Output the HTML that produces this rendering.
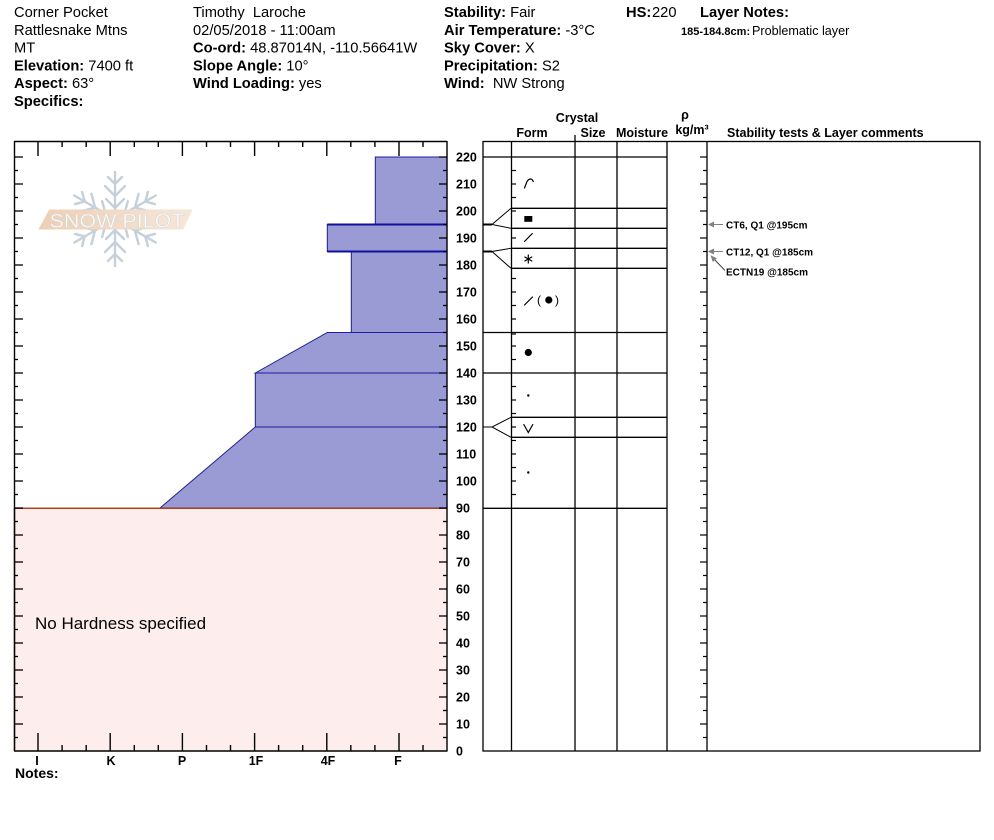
<!DOCTYPE html>
<html>
<head>
<meta charset="utf-8">
<style>
html,body{margin:0;padding:0;background:#fff;}
svg{display:block;}
text{font-family:"Liberation Sans",Arial,sans-serif;white-space:pre;}
.h{font-size:14.7px;fill:#000;}
.b{font-weight:bold;}
.ax{font-size:12.5px;font-weight:bold;fill:#000;}
.th{font-size:12.5px;font-weight:bold;fill:#000;}
.st{font-size:10px;font-weight:bold;fill:#000;}
</style>
</head>
<body>
<svg width="994" height="840" viewBox="0 0 994 840" xmlns="http://www.w3.org/2000/svg">
<defs>
<linearGradient id="bn" x1="0" x2="1" y1="0" y2="0">
<stop offset="0" stop-color="#ecccb0"/>
<stop offset="1" stop-color="#f6e6d8"/>
</linearGradient>
<g id="arm">
<line x1="0" y1="0" x2="0" y2="-47"/>
<polyline points="-9,-20 0,-11 9,-20" fill="none"/>
<polyline points="-10,-33 0,-23 10,-33" fill="none"/>
<polyline points="-7,-42 0,-35 7,-42" fill="none"/>
</g>
</defs>
<rect x="0" y="0" width="994" height="840" fill="#fff"/>

<!-- Header column 1 -->
<text class="h" x="14" y="17">Corner Pocket</text>
<text class="h" x="14" y="34.8">Rattlesnake Mtns</text>
<text class="h" x="14" y="52.6">MT</text>
<text class="h" x="14" y="70.4"><tspan class="b">Elevation:</tspan> 7400 ft</text>
<text class="h" x="14" y="88.2"><tspan class="b">Aspect:</tspan> 63°</text>
<text class="h" x="14" y="106"><tspan class="b">Specifics:</tspan></text>

<!-- Header column 2 -->
<text class="h" x="193" y="17">Timothy  Laroche</text>
<text class="h" x="193" y="34.8">02/05/2018 - 11:00am</text>
<text class="h" x="193" y="52.6"><tspan class="b">Co-ord:</tspan> 48.87014N, -110.56641W</text>
<text class="h" x="193" y="70.4"><tspan class="b">Slope Angle:</tspan> 10°</text>
<text class="h" x="193" y="88.2"><tspan class="b">Wind Loading:</tspan> yes</text>

<!-- Header column 3 -->
<text class="h" x="444" y="17"><tspan class="b">Stability:</tspan> Fair</text>
<text class="h" x="444" y="34.8"><tspan class="b">Air Temperature:</tspan> -3°C</text>
<text class="h" x="444" y="52.6"><tspan class="b">Sky Cover:</tspan> X</text>
<text class="h" x="444" y="70.4"><tspan class="b">Precipitation:</tspan> S2</text>
<text class="h" x="444" y="88.2"><tspan class="b">Wind:</tspan>  NW Strong</text>

<!-- Header column 4 -->
<text class="h b" x="626" y="17">HS:</text>
<text class="h" x="652" y="17">220</text>
<text class="h b" x="700" y="17">Layer Notes:</text>
<text x="681" y="35" style="font-size:11px;font-weight:bold">185-184.8cm:</text>
<text x="752" y="35" style="font-size:12.6px">Problematic layer</text>

<!-- ===== Left hardness chart ===== -->
<rect x="14" y="508" width="433" height="243" fill="#fdeded"/>
<line x1="14.5" y1="508" x2="14.5" y2="751" stroke="#b0401a" stroke-width="1.5"/>
<line x1="14" y1="508.3" x2="447" y2="508.3" stroke="#b0401a" stroke-width="1.3"/>

<!-- logo -->
<g stroke="#c5d0da" stroke-width="2.4" stroke-linecap="round" transform="translate(115,219)">
<use href="#arm" transform="rotate(0)"/>
<use href="#arm" transform="rotate(60)"/>
<use href="#arm" transform="rotate(120)"/>
<use href="#arm" transform="rotate(180)"/>
<use href="#arm" transform="rotate(240)"/>
<use href="#arm" transform="rotate(300)"/>
</g>
<polygon points="38.3,229.5 49.3,209.5 192.7,209.5 183.3,229.5" fill="url(#bn)" opacity="0.95"/>
<text x="49.5" y="227.3" textLength="135" lengthAdjust="spacingAndGlyphs" style="font-size:19.5px;fill:#ffffff;stroke:#d8d8d8;stroke-width:0.6">SNOW PILOT</text>

<!-- snow layers -->
<g fill="#9a9ad5" stroke="#1c1ca4" stroke-width="1">
<polygon points="160,508 255.3,427 447,427 447,508"/>
<rect x="255.3" y="373" width="191.7" height="54"/>
<polygon points="255.3,373 327.3,332.5 447,332.5 447,373"/>
<rect x="351.3" y="251.5" width="95.7" height="81"/>
<rect x="327.3" y="224.5" width="119.7" height="27"/>
<rect x="375.3" y="157" width="71.7" height="67.5"/>
</g>
<line x1="14" y1="508.3" x2="447" y2="508.3" stroke="#b0401a" stroke-width="1.3"/>
<line x1="327.3" y1="224.5" x2="447" y2="224.5" stroke="#1010a0" stroke-width="2"/>
<line x1="327.3" y1="251.5" x2="447" y2="251.5" stroke="#1010a0" stroke-width="2"/>

<!-- chart frame -->
<g stroke="#000" stroke-width="1.4" fill="none">
<line x1="14" y1="141.5" x2="447" y2="141.5"/>
<line x1="14" y1="751" x2="447.5" y2="751"/>
<line x1="14.5" y1="141" x2="14.5" y2="751"/>
<line x1="447" y1="141" x2="447" y2="751"/>
</g>

<!-- top & bottom hardness ticks -->
<g stroke="#000" stroke-width="1.4">
<line x1="38" y1="141" x2="38" y2="156"/><line x1="62.1" y1="141" x2="62.1" y2="147"/><line x1="86.2" y1="141" x2="86.2" y2="147"/>
<line x1="110.2" y1="141" x2="110.2" y2="156"/><line x1="134.3" y1="141" x2="134.3" y2="147"/><line x1="158.3" y1="141" x2="158.3" y2="147"/>
<line x1="182.4" y1="141" x2="182.4" y2="156"/><line x1="206.5" y1="141" x2="206.5" y2="147"/><line x1="230.5" y1="141" x2="230.5" y2="147"/>
<line x1="254.6" y1="141" x2="254.6" y2="156"/><line x1="278.6" y1="141" x2="278.6" y2="147"/><line x1="302.7" y1="141" x2="302.7" y2="147"/>
<line x1="326.8" y1="141" x2="326.8" y2="156"/><line x1="350.8" y1="141" x2="350.8" y2="147"/><line x1="374.9" y1="141" x2="374.9" y2="147"/>
<line x1="399" y1="141" x2="399" y2="156"/><line x1="423" y1="141" x2="423" y2="147"/>

<line x1="38" y1="751" x2="38" y2="733"/><line x1="62.1" y1="751" x2="62.1" y2="745"/><line x1="86.2" y1="751" x2="86.2" y2="745"/>
<line x1="110.2" y1="751" x2="110.2" y2="733"/><line x1="134.3" y1="751" x2="134.3" y2="745"/><line x1="158.3" y1="751" x2="158.3" y2="745"/>
<line x1="182.4" y1="751" x2="182.4" y2="733"/><line x1="206.5" y1="751" x2="206.5" y2="745"/><line x1="230.5" y1="751" x2="230.5" y2="745"/>
<line x1="254.6" y1="751" x2="254.6" y2="733"/><line x1="278.6" y1="751" x2="278.6" y2="745"/><line x1="302.7" y1="751" x2="302.7" y2="745"/>
<line x1="326.8" y1="751" x2="326.8" y2="733"/><line x1="350.8" y1="751" x2="350.8" y2="745"/><line x1="374.9" y1="751" x2="374.9" y2="745"/>
<line x1="399" y1="751" x2="399" y2="733"/><line x1="423" y1="751" x2="423" y2="745"/>
</g>

<!-- left & right depth ticks -->
<g stroke="#000" stroke-width="1.3">
<line x1="14" y1="157" x2="23" y2="157"/><line x1="439" y1="157" x2="447" y2="157"/>
<line x1="14" y1="184" x2="23" y2="184"/><line x1="439" y1="184" x2="447" y2="184"/>
<line x1="14" y1="211" x2="23" y2="211"/><line x1="439" y1="211" x2="447" y2="211"/>
<line x1="14" y1="238" x2="23" y2="238"/><line x1="439" y1="238" x2="447" y2="238"/>
<line x1="14" y1="265" x2="23" y2="265"/><line x1="439" y1="265" x2="447" y2="265"/>
<line x1="14" y1="292" x2="23" y2="292"/><line x1="439" y1="292" x2="447" y2="292"/>
<line x1="14" y1="319" x2="23" y2="319"/><line x1="439" y1="319" x2="447" y2="319"/>
<line x1="14" y1="346" x2="23" y2="346"/><line x1="439" y1="346" x2="447" y2="346"/>
<line x1="14" y1="373" x2="23" y2="373"/><line x1="439" y1="373" x2="447" y2="373"/>
<line x1="14" y1="400" x2="23" y2="400"/><line x1="439" y1="400" x2="447" y2="400"/>
<line x1="14" y1="427" x2="23" y2="427"/><line x1="439" y1="427" x2="447" y2="427"/>
<line x1="14" y1="454" x2="23" y2="454"/><line x1="439" y1="454" x2="447" y2="454"/>
<line x1="14" y1="481" x2="23" y2="481"/><line x1="439" y1="481" x2="447" y2="481"/>
<line x1="14" y1="508" x2="23" y2="508"/><line x1="439" y1="508" x2="447" y2="508"/>
<line x1="14" y1="535" x2="23" y2="535"/><line x1="439" y1="535" x2="447" y2="535"/>
<line x1="14" y1="562" x2="23" y2="562"/><line x1="439" y1="562" x2="447" y2="562"/>
<line x1="14" y1="589" x2="23" y2="589"/><line x1="439" y1="589" x2="447" y2="589"/>
<line x1="14" y1="616" x2="23" y2="616"/><line x1="439" y1="616" x2="447" y2="616"/>
<line x1="14" y1="643" x2="23" y2="643"/><line x1="439" y1="643" x2="447" y2="643"/>
<line x1="14" y1="670" x2="23" y2="670"/><line x1="439" y1="670" x2="447" y2="670"/>
<line x1="14" y1="697" x2="23" y2="697"/><line x1="439" y1="697" x2="447" y2="697"/>
<line x1="14" y1="724" x2="23" y2="724"/><line x1="439" y1="724" x2="447" y2="724"/>
<line x1="14" y1="170.5" x2="18" y2="170.5"/><line x1="443" y1="170.5" x2="447" y2="170.5"/>
<line x1="14" y1="197.5" x2="18" y2="197.5"/><line x1="443" y1="197.5" x2="447" y2="197.5"/>
<line x1="14" y1="224.5" x2="18" y2="224.5"/><line x1="443" y1="224.5" x2="447" y2="224.5"/>
<line x1="14" y1="251.5" x2="18" y2="251.5"/><line x1="443" y1="251.5" x2="447" y2="251.5"/>
<line x1="14" y1="278.5" x2="18" y2="278.5"/><line x1="443" y1="278.5" x2="447" y2="278.5"/>
<line x1="14" y1="305.5" x2="18" y2="305.5"/><line x1="443" y1="305.5" x2="447" y2="305.5"/>
<line x1="14" y1="332.5" x2="18" y2="332.5"/><line x1="443" y1="332.5" x2="447" y2="332.5"/>
<line x1="14" y1="359.5" x2="18" y2="359.5"/><line x1="443" y1="359.5" x2="447" y2="359.5"/>
<line x1="14" y1="386.5" x2="18" y2="386.5"/><line x1="443" y1="386.5" x2="447" y2="386.5"/>
<line x1="14" y1="413.5" x2="18" y2="413.5"/><line x1="443" y1="413.5" x2="447" y2="413.5"/>
<line x1="14" y1="440.5" x2="18" y2="440.5"/><line x1="443" y1="440.5" x2="447" y2="440.5"/>
<line x1="14" y1="467.5" x2="18" y2="467.5"/><line x1="443" y1="467.5" x2="447" y2="467.5"/>
<line x1="14" y1="494.5" x2="18" y2="494.5"/><line x1="443" y1="494.5" x2="447" y2="494.5"/>
<line x1="14" y1="521.5" x2="18" y2="521.5"/><line x1="443" y1="521.5" x2="447" y2="521.5"/>
<line x1="14" y1="548.5" x2="18" y2="548.5"/><line x1="443" y1="548.5" x2="447" y2="548.5"/>
<line x1="14" y1="575.5" x2="18" y2="575.5"/><line x1="443" y1="575.5" x2="447" y2="575.5"/>
<line x1="14" y1="602.5" x2="18" y2="602.5"/><line x1="443" y1="602.5" x2="447" y2="602.5"/>
<line x1="14" y1="629.5" x2="18" y2="629.5"/><line x1="443" y1="629.5" x2="447" y2="629.5"/>
<line x1="14" y1="656.5" x2="18" y2="656.5"/><line x1="443" y1="656.5" x2="447" y2="656.5"/>
<line x1="14" y1="683.5" x2="18" y2="683.5"/><line x1="443" y1="683.5" x2="447" y2="683.5"/>
<line x1="14" y1="710.5" x2="18" y2="710.5"/><line x1="443" y1="710.5" x2="447" y2="710.5"/>
<line x1="14" y1="737.5" x2="18" y2="737.5"/><line x1="443" y1="737.5" x2="447" y2="737.5"/>
</g>

<!-- depth labels -->
<g class="ax">
<text class="ax" x="456" y="161.5">220</text>
<text class="ax" x="456" y="188.5">210</text>
<text class="ax" x="456" y="215.5">200</text>
<text class="ax" x="456" y="242.5">190</text>
<text class="ax" x="456" y="269.5">180</text>
<text class="ax" x="456" y="296.5">170</text>
<text class="ax" x="456" y="323.5">160</text>
<text class="ax" x="456" y="350.5">150</text>
<text class="ax" x="456" y="377.5">140</text>
<text class="ax" x="456" y="404.5">130</text>
<text class="ax" x="456" y="431.5">120</text>
<text class="ax" x="456" y="458.5">110</text>
<text class="ax" x="456" y="485.5">100</text>
<text class="ax" x="456" y="512.5">90</text>
<text class="ax" x="456" y="539.5">80</text>
<text class="ax" x="456" y="566.5">70</text>
<text class="ax" x="456" y="593.5">60</text>
<text class="ax" x="456" y="620.5">50</text>
<text class="ax" x="456" y="647.5">40</text>
<text class="ax" x="456" y="674.5">30</text>
<text class="ax" x="456" y="701.5">20</text>
<text class="ax" x="456" y="728.5">10</text>
<text class="ax" x="456" y="755.5">0</text>
</g>

<!-- hardness labels -->
<g text-anchor="middle">
<text class="ax" x="37" y="765">I</text>
<text class="ax" x="111" y="765">K</text>
<text class="ax" x="182" y="765">P</text>
<text class="ax" x="256" y="765">1F</text>
<text class="ax" x="328" y="765">4F</text>
<text class="ax" x="398" y="765">F</text>
</g>
<text x="15" y="778" style="font-size:14px;font-weight:bold">Notes:</text>
<text x="35" y="629" style="font-size:17px">No Hardness specified</text>

<!-- ===== Right table ===== -->
<text class="th" x="577" y="122" text-anchor="middle">Crystal</text>
<text class="th" x="685" y="119" text-anchor="middle">ρ</text>
<text class="th" x="532" y="137" text-anchor="middle">Form</text>
<text class="th" x="593" y="137" text-anchor="middle">Size</text>
<text class="th" x="642" y="137" text-anchor="middle">Moisture</text>
<text class="th" x="692" y="134" text-anchor="middle">kg/m³</text>
<text class="th" x="727" y="137">Stability tests &amp; Layer comments</text>

<g stroke="#000" stroke-width="1.3" fill="none">
<rect x="483" y="141.5" width="497" height="609.5"/>
<line x1="511.5" y1="141" x2="511.5" y2="751"/>
<line x1="575" y1="135" x2="575" y2="751"/>
<line x1="617" y1="141" x2="617" y2="751"/>
<line x1="667" y1="141" x2="667" y2="751"/>
<line x1="707" y1="141" x2="707" y2="751"/>
<line x1="483" y1="157" x2="667" y2="157"/>
<line x1="511" y1="208.3" x2="667" y2="208.3"/>
<line x1="511" y1="228.3" x2="667" y2="228.3"/>
<line x1="511" y1="248.3" x2="667" y2="248.3"/>
<line x1="511" y1="268.3" x2="667" y2="268.3"/>
<line x1="483" y1="332.5" x2="667" y2="332.5"/>
<line x1="483" y1="373" x2="667" y2="373"/>
<line x1="511" y1="417.3" x2="667" y2="417.3"/>
<line x1="511" y1="437.3" x2="667" y2="437.3"/>
<line x1="483" y1="508.3" x2="667" y2="508.3"/>
</g>
<!-- connectors -->
<g stroke="#000" fill="none">
<line x1="483" y1="224.5" x2="492" y2="224.5" stroke-width="2"/>
<polyline points="511,208.3 492,224.5 511,228.3" stroke-width="1"/>
<line x1="483" y1="251.5" x2="492" y2="251.5" stroke-width="2"/>
<polyline points="511,248.3 492,251.5 511,268.3" stroke-width="1"/>
<line x1="483" y1="427" x2="492" y2="427" stroke-width="1"/>
<polyline points="511,417.3 492,427 511,437.3" stroke-width="1"/>
</g>

<!-- form column ticks and comment ticks -->
<g stroke="#000" stroke-width="1.2">
<line x1="511" y1="170.5" x2="516" y2="170.5"/>
<line x1="511" y1="184" x2="516" y2="184"/>
<line x1="511" y1="197.5" x2="516" y2="197.5"/>
<line x1="511" y1="211" x2="516" y2="211"/>
<line x1="511" y1="238" x2="516" y2="238"/>
<line x1="511" y1="278.5" x2="516" y2="278.5"/>
<line x1="511" y1="292" x2="516" y2="292"/>
<line x1="511" y1="305.5" x2="516" y2="305.5"/>
<line x1="511" y1="319" x2="516" y2="319"/>
<line x1="511" y1="334" x2="516" y2="334"/>
<line x1="511" y1="346" x2="516" y2="346"/>
<line x1="511" y1="359.5" x2="516" y2="359.5"/>
<line x1="511" y1="386.5" x2="516" y2="386.5"/>
<line x1="511" y1="400" x2="516" y2="400"/>
<line x1="511" y1="413.5" x2="516" y2="413.5"/>
<line x1="511" y1="427" x2="516" y2="427"/>
<line x1="511" y1="440.5" x2="516" y2="440.5"/>
<line x1="511" y1="454" x2="516" y2="454"/>
<line x1="511" y1="467.5" x2="516" y2="467.5"/>
<line x1="511" y1="481" x2="516" y2="481"/>
<line x1="511" y1="494.5" x2="516" y2="494.5"/>

<line x1="700" y1="157" x2="707" y2="157"/><line x1="703" y1="170.5" x2="707" y2="170.5"/>
<line x1="700" y1="184" x2="707" y2="184"/><line x1="703" y1="197.5" x2="707" y2="197.5"/>
<line x1="700" y1="211" x2="707" y2="211"/><line x1="703" y1="224.5" x2="707" y2="224.5"/>
<line x1="700" y1="238" x2="707" y2="238"/><line x1="703" y1="251.5" x2="707" y2="251.5"/>
<line x1="700" y1="265" x2="707" y2="265"/><line x1="703" y1="278.5" x2="707" y2="278.5"/>
<line x1="700" y1="292" x2="707" y2="292"/><line x1="703" y1="305.5" x2="707" y2="305.5"/>
<line x1="700" y1="319" x2="707" y2="319"/><line x1="703" y1="332.5" x2="707" y2="332.5"/>
<line x1="700" y1="346" x2="707" y2="346"/><line x1="703" y1="359.5" x2="707" y2="359.5"/>
<line x1="700" y1="373" x2="707" y2="373"/><line x1="703" y1="386.5" x2="707" y2="386.5"/>
<line x1="700" y1="400" x2="707" y2="400"/><line x1="703" y1="413.5" x2="707" y2="413.5"/>
<line x1="700" y1="427" x2="707" y2="427"/><line x1="703" y1="440.5" x2="707" y2="440.5"/>
<line x1="700" y1="454" x2="707" y2="454"/><line x1="703" y1="467.5" x2="707" y2="467.5"/>
<line x1="700" y1="481" x2="707" y2="481"/><line x1="703" y1="494.5" x2="707" y2="494.5"/>
<line x1="700" y1="508" x2="707" y2="508"/><line x1="703" y1="521.5" x2="707" y2="521.5"/>
<line x1="700" y1="535" x2="707" y2="535"/><line x1="703" y1="548.5" x2="707" y2="548.5"/>
<line x1="700" y1="562" x2="707" y2="562"/><line x1="703" y1="575.5" x2="707" y2="575.5"/>
<line x1="700" y1="589" x2="707" y2="589"/><line x1="703" y1="602.5" x2="707" y2="602.5"/>
<line x1="700" y1="616" x2="707" y2="616"/><line x1="703" y1="629.5" x2="707" y2="629.5"/>
<line x1="700" y1="643" x2="707" y2="643"/><line x1="703" y1="656.5" x2="707" y2="656.5"/>
<line x1="700" y1="670" x2="707" y2="670"/><line x1="703" y1="683.5" x2="707" y2="683.5"/>
<line x1="700" y1="697" x2="707" y2="697"/><line x1="703" y1="710.5" x2="707" y2="710.5"/>
<line x1="700" y1="724" x2="707" y2="724"/><line x1="703" y1="737.5" x2="707" y2="737.5"/>
</g>

<!-- crystal form symbols -->
<g stroke="#000" stroke-width="1.2" fill="none" stroke-linecap="round">
<path d="M524.5,188 L527,181.5 Q529.5,178 532,179.5 L533.3,181.5"/>
<line x1="524.5" y1="241.5" x2="532.3" y2="233.5"/>
<line x1="528.3" y1="255" x2="528.3" y2="263"/>
<line x1="524.8" y1="257" x2="531.8" y2="261"/>
<line x1="524.8" y1="261" x2="531.8" y2="257"/>
<line x1="524.5" y1="305" x2="532.5" y2="297"/>
<polyline points="523.8,424.5 528.3,432.5 532.8,424.5"/>
</g>
<rect x="524.3" y="216" width="8" height="5.8" fill="#000"/>
<text x="537" y="304" style="font-size:12px">(</text>
<circle cx="548.8" cy="300" r="3.6" fill="#000"/>
<text x="555" y="304" style="font-size:12px">)</text>
<circle cx="528.3" cy="352.5" r="3.6" fill="#000"/>
<circle cx="528.3" cy="395.5" r="1.2" fill="#000"/>
<circle cx="528.3" cy="472.5" r="1.2" fill="#000"/>

<!-- stability test arrows -->
<g stroke="#808080" stroke-width="1" fill="#808080">
<line x1="711" y1="224.5" x2="723" y2="224.5"/>
<polygon points="708,224.5 714,221.5 714,227.5" stroke="none"/>
<line x1="711" y1="251.5" x2="723" y2="251.5"/>
<polygon points="708,251.5 714,248.5 714,254.5" stroke="none"/>
<line x1="713" y1="258" x2="725" y2="270.5" stroke="#404040"/>
<polygon points="710.5,255.3 716.8,258.3 712.8,262" stroke="none"/>
</g>
<text class="st" x="726" y="228.5">CT6, Q1 @195cm</text>
<text class="st" x="726" y="255.5">CT12, Q1 @185cm</text>
<text class="st" x="726" y="275.5">ECTN19 @185cm</text>
</svg>
</body>
</html>
